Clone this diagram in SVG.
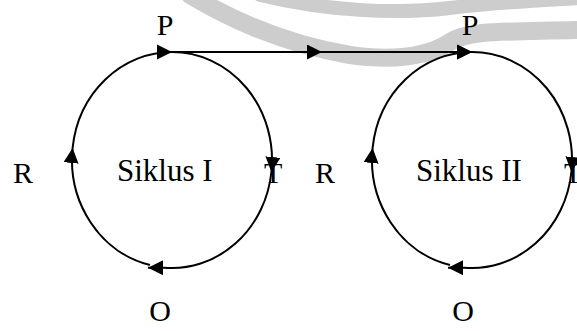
<svg xmlns="http://www.w3.org/2000/svg" width="577" height="331" viewBox="0 0 577 331">
  <style>
    .lbl { font-family: "Liberation Serif", "Times New Roman", serif; font-size: 30px; fill: #000; }
    .big { font-size: 31px; }
    .edge { fill: none; stroke: #000; stroke-width: 2; marker-end: url(#arr); }
    .wm { fill: none; stroke: #cdcdcd; stroke-linecap: round; }
  </style>
  <defs>
    <marker id="arr" markerUnits="userSpaceOnUse" markerWidth="17" markerHeight="17" refX="15" refY="7.5" orient="auto">
      <path d="M0,0 L15,7.5 L0,15 Z" fill="#000"/>
    </marker>
  </defs>

  <g id="watermark">
    <path class="wm" stroke-width="18" d="M190,-5 C240,25 290,45 350,55 C400,62 430,55 450,42 C470,30 500,32 580,30"/>
    <path class="wm" stroke-width="14" d="M260,-5 C330,12 400,14 450,8 C500,2 540,0 580,-2"/>
  </g>

  <g id="connectors">
    <path class="edge" d="M172,52 L322,52"/>
    <path class="edge" d="M322,52 L472,52"/>
  </g>

  <g id="cycle1">
    <path class="edge" d="M72.6,148 A100 108 0 0 1 172,52"/>
    <path class="edge" d="M172,52 A100 108 0 0 1 271.4,172"/>
    <path class="edge" d="M271.4,172 A100 108 0 0 1 164,267.7 L148,267.7"/>
    <path class="edge" d="M150,265 A100 108 0 0 1 72.6,148"/>
    <text class="lbl big" x="117" y="181">Siklus I</text>
  </g>

  <g id="cycle2">
    <path class="edge" d="M372.6,148 A100 108 0 0 1 472,52"/>
    <path class="edge" d="M472,52 A100 108 0 0 1 571.4,172"/>
    <path class="edge" d="M571.4,172 A100 108 0 0 1 464,267.7 L448,267.7"/>
    <path class="edge" d="M450,265 A100 108 0 0 1 372.6,148"/>
    <text class="lbl big" x="416" y="181">Siklus II</text>
  </g>

  <g id="label-P1"><text class="lbl" x="165" y="35" text-anchor="middle">P</text></g>
  <g id="label-P2"><text class="lbl" x="470" y="35" text-anchor="middle">P</text></g>
  <g id="label-R1"><text class="lbl" x="13" y="183">R</text></g>
  <g id="label-R2"><text class="lbl" x="315" y="183">R</text></g>
  <g id="label-T1"><text class="lbl" x="264" y="183">T</text></g>
  <g id="label-T2"><text class="lbl" x="564" y="183">T</text></g>
  <g id="label-O1"><text class="lbl" x="160" y="321" text-anchor="middle">O</text></g>
  <g id="label-O2"><text class="lbl" x="463" y="321" text-anchor="middle">O</text></g>
</svg>
